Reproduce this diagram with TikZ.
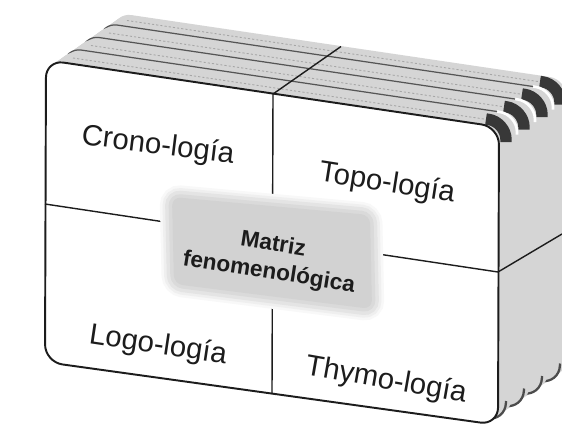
\documentclass[tikz,border=0pt]{standalone}
\usepackage{fontspec}
\setmainfont{Liberation Sans}
\usetikzlibrary{calc}
\definecolor{cardgray}{HTML}{D5D5D5}
\definecolor{cornerdark}{HTML}{383838}
\definecolor{labelgray}{HTML}{D2D2D2}
\definecolor{inkgray}{HTML}{1C1C1C}
\tikzset{
  cardface/.style={insert path={(46,60) -- (499,127) -- (498,425) -- (45,362) -- cycle}},
  cardtop/.style={insert path={(46,85) -- (46,60) -- (479,124)}},
  cardtr/.style={insert path={(479,124) -- (499,127) -- (499,147)}},
  cardbr/.style={insert path={(499,405) -- (498,425) -- (478,422)}},
  cardgrain/.style={insert path={(66,63) -- (477,124)}},
  cardbody/.style={fill=cardgray, rounded corners=10pt},
  cardedge/.style={draw=inkgray!75, line width=0.7pt, rounded corners=10pt},
  cardband/.style={draw=cornerdark, line width=6.5pt, rounded corners=10pt},
  frontcard/.style={fill=white, draw=inkgray, line width=1.1pt, rounded corners=10pt},
  divider/.style={draw=inkgray, line width=0.8pt},
  facelabel/.style={font=\fontsize{16.7}{20}\selectfont, text=inkgray, inner sep=0pt},
  matrizlabel/.style={font=\bfseries\fontsize{12.9}{16}\selectfont, text=inkgray, align=center, inner sep=0pt},
  matrizbox/.style={fill=labelgray, rounded corners=5pt,
    preaction={draw=labelgray!15, line width=14pt},
    preaction={draw=labelgray!35, line width=11pt},
    preaction={draw=labelgray!60, line width=8pt},
    preaction={draw=labelgray!82, line width=4pt}}
}

\begin{document}
\begin{tikzpicture}[x=0.02cm, y=-0.02cm]
  \useasboundingbox (0,0) rectangle (562,424);
  \fill[white] (0,0) rectangle (562,424);
  \clip (0,0) rectangle (562,424);
  % stack of cards, back one first
  \foreach \k in {3,2,1,0}{
    \foreach \j in {10,9,...,0}{
      \path[cardbody, shift={({\k*18+\j*1.4},{-\k*12.5-\j})}, cardface];
    }
    \draw[black!35, line width=0.5pt, dash pattern=on 1.2pt off 1.2pt, shift={({\k*18+7},{-\k*12.5-5})}, cardgrain];
    \draw[cardband, shift={({\k*18+7},{-\k*12.5-5})}, cardtr];
    \draw[black!70, line width=1.3pt, rounded corners=10pt, shift={({\k*18+7},{-\k*12.5-4})}, cardbr];
    \ifnum\k>0
      \draw[white, line width=1.5pt, rounded corners=10pt, shift={(\k*18,-\k*12.5)}, cardtr];
      \draw[cardedge, shift={(\k*18,-\k*12.5)}, cardtop];
    \fi
  }
  % front card
  \path[frontcard, cardface];
  \coordinate (vtop) at (273,94);
  \coordinate (vbot) at (272,394);
  \coordinate (hleft) at (45,204);
  \coordinate (hright) at (498,272);
  \coordinate (vback) at ($(vtop)+(68,-47.5)$);
  \coordinate (hback) at ($(hright)+(64,-38)$);
  \draw[divider] (vtop) -- (vbot);
  \draw[divider] (hleft) -- (hright);
  \draw[divider] (vtop) -- (vback);
  \draw[divider] (hright) -- (hback);
  % central label
  \fill[matrizbox] (172,197) -- (370,215) -- (372,309) -- (174,284) -- cycle;
  \node[matrizlabel, rotate=-9] (matriz) at (271,259) {Matriz\\fenomenológica};
  \node[facelabel, rotate=-7] (crono) at (158,146) {Crono-logía};
  \node[facelabel, rotate=-9] (topo) at (387,184) {Topo-logía};
  \node[facelabel, rotate=-8.5] (logo) at (158,346) {Logo-logía};
  \node[facelabel, rotate=-10] (thymo) at (386,381) {Thymo-logía};
\end{tikzpicture}
\end{document}
